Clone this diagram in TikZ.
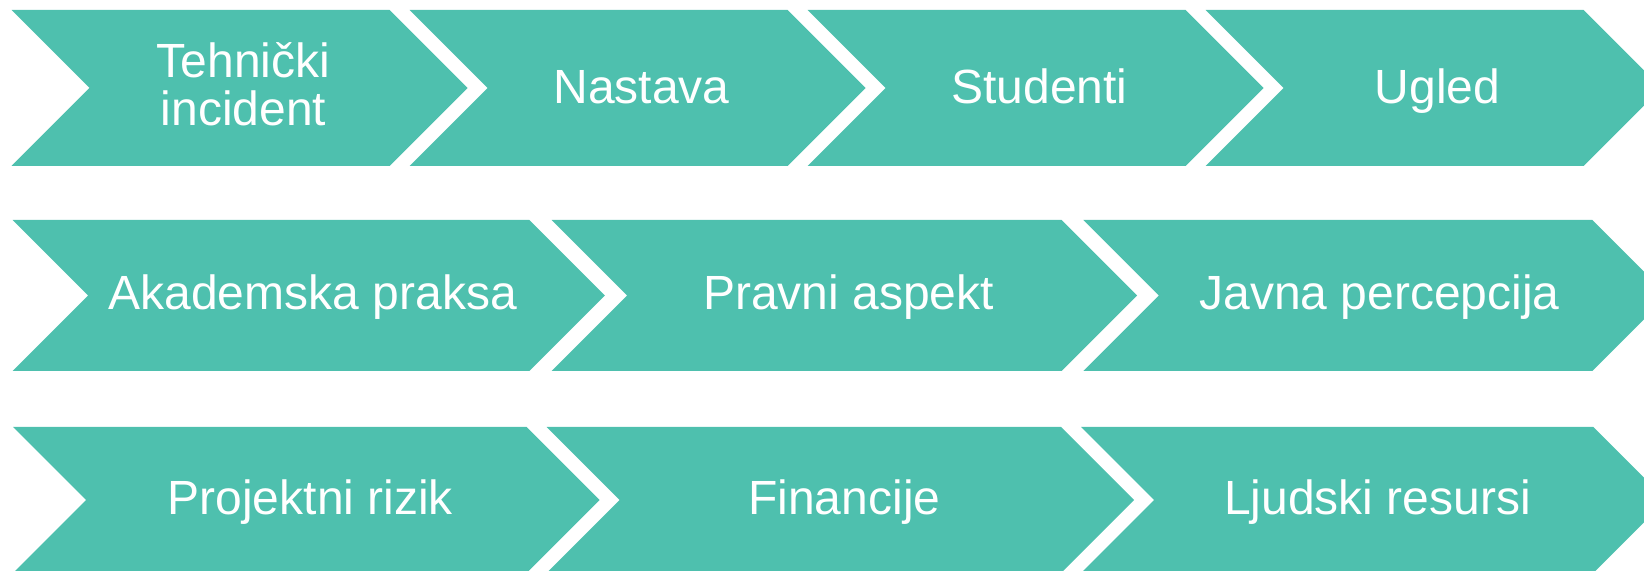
\documentclass[tikz,border=0pt]{standalone}
\usepackage{fontspec}
\setmainfont{Liberation Sans}
\usetikzlibrary{positioning,calc}
\definecolor{chevteal}{RGB}{78,192,174}
\tikzset{%
  chevron/.style={fill=chevteal,draw=none},
  chevron text/.style={text=white,align=center,inner sep=0pt,
    font=\fontsize{24}{23.8}\selectfont},
}

\begin{document}
\begin{tikzpicture}[x=0.5pt,y=-0.5pt]
            \useasboundingbox (0,0) rectangle (1644,571);
            \clip (0,0) rectangle (1644,571);
            % first row
            \foreach \n/\xl/\xr in {1/11.5/389.5,2/409.5/787.5,3/807.5/1185.5,4/1205.5/1583.5}
            {
                \fill[chevron] (\xl,10) -- (\xr,10) -- (\xr+78,88) -- (\xr,166)
                    -- (\xl,166) -- (\xl+78,88) -- cycle;
                \coordinate (ca\n) at ({(\xl+\xr+78)/2+4},104);
            }
            \node[chevron text] (ra1) at ($(ca1)+(0,-19.5)$) {Tehnički\\incident};
            \foreach \n/\txt in {2/Nastava,3/Studenti,4/Ugled}
                \node[chevron text,anchor=base] (ra\n) at (ca\n) {\txt};
            % second row
            \foreach \n/\xl/\xr/\txt in {1/12.6/529.3/Akademska praksa,2/551.7/1061.7/Pravni aspekt,3/1083.3/1592.3/Javna percepcija}
            {
                \fill[chevron] (\xl,220) -- (\xr,220) -- (\xr+75.5,295.5) -- (\xr,371)
                    -- (\xl,371) -- (\xl+75.5,295.5) -- cycle;
                \node[chevron text,anchor=base] (rb\n) at ({(\xl+\xr+75.5)/2+4},309.5) {\txt};
            }
            % third row
            \foreach \n/\xl/\xr/\txt in {1/13/526.7/Projektni rizik,2/546.7/1061/Financije,3/1081/1593.3/Ljudski resursi}
            {
                \fill[chevron] (\xl,427) -- (\xr,427) -- (\xr+73,500) -- (\xr,573)
                    -- (\xl,573) -- (\xl+73,500) -- cycle;
                \node[chevron text,anchor=base] (rc\n) at ({(\xl+\xr+73)/2+4},515) {\txt};
            }
\end{tikzpicture}
\end{document}
